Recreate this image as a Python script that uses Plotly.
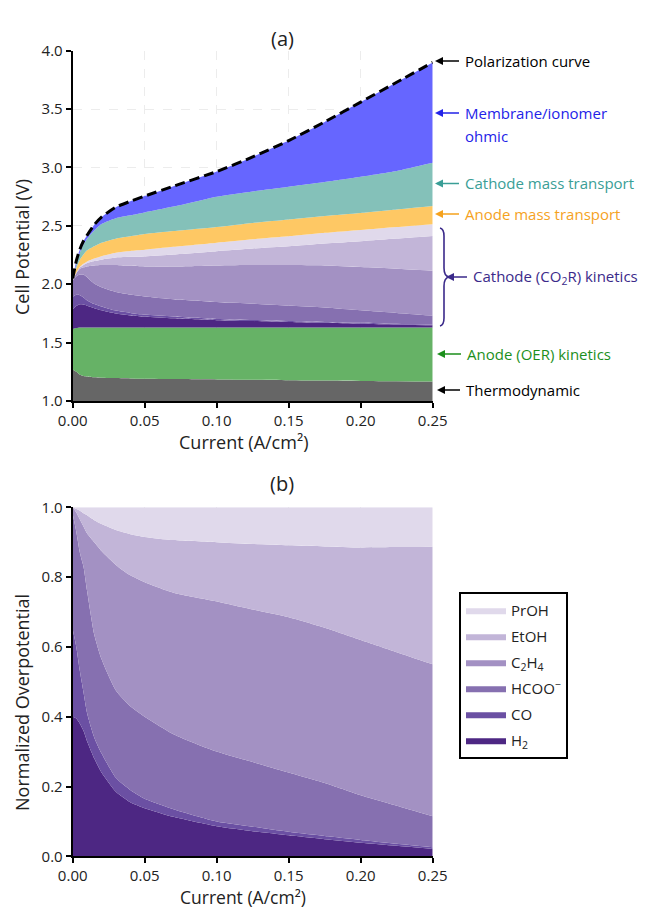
import numpy as np
import plotly.graph_objects as go

# ---------------- data ----------------
current = [0, 0.0025, 0.005, 0.0075, 0.01, 0.015, 0.02, 0.03, 0.04, 0.05,
           0.07, 0.10, 0.125, 0.15, 0.175, 0.20, 0.225, 0.25]

# (a) voltage contributions (V), stacked from bottom
thermodynamic = [1.27, 1.25, 1.225, 1.215, 1.21, 1.203, 1.20, 1.196, 1.193, 1.19,
                 1.188, 1.185, 1.182, 1.178, 1.175, 1.172, 1.169, 1.166]
anode_kinetics = [0.347, 0.375, 0.405, 0.415, 0.42, 0.427, 0.43, 0.434, 0.437, 0.44,
                  0.442, 0.445, 0.448, 0.452, 0.455, 0.458, 0.461, 0.464]
cathode_kinetics = [0.423, 0.475, 0.52, 0.545, 0.565, 0.59, 0.61, 0.64, 0.655, 0.665,
                    0.69, 0.726, 0.755, 0.78, 0.81, 0.835, 0.86, 0.884]
anode_mass_transport = [0.01, 0.04, 0.06, 0.08, 0.095, 0.105, 0.115, 0.12, 0.125, 0.135,
                        0.135, 0.134, 0.14, 0.145, 0.145, 0.145, 0.15, 0.156]
cathode_mass_transport = [0.0, 0.03, 0.06, 0.085, 0.10, 0.135, 0.16, 0.175, 0.18, 0.185,
                          0.21, 0.26, 0.27, 0.28, 0.29, 0.31, 0.33, 0.37]
membrane_ohmic = [0.0, 0.03, 0.03, 0.03, 0.03, 0.05, 0.06, 0.095, 0.12, 0.14,
                  0.175, 0.215, 0.295, 0.395, 0.515, 0.64, 0.76, 0.86]

# (b) normalized cathode overpotential, cumulative upper boundaries
h2_cum = [0.40, 0.395, 0.38, 0.36, 0.33, 0.28, 0.24, 0.185, 0.155, 0.138,
          0.113, 0.086, 0.072, 0.060, 0.049, 0.039, 0.030, 0.021]
co_cum = [0.65, 0.60, 0.53, 0.47, 0.41, 0.34, 0.295, 0.225, 0.19, 0.165,
          0.135, 0.10, 0.085, 0.07, 0.058, 0.047, 0.036, 0.026]
hcoo_cum = [0.98, 0.93, 0.87, 0.83, 0.76, 0.635, 0.565, 0.475, 0.43, 0.40,
            0.35, 0.30, 0.27, 0.24, 0.21, 0.175, 0.145, 0.115]
c2h4_cum = [1.0, 0.985, 0.965, 0.945, 0.925, 0.90, 0.875, 0.835, 0.805, 0.785,
            0.755, 0.73, 0.707, 0.685, 0.655, 0.62, 0.585, 0.55]
etoh_cum = [1.0, 0.995, 0.99, 0.983, 0.977, 0.963, 0.952, 0.935, 0.923, 0.915,
            0.906, 0.90, 0.895, 0.891, 0.888, 0.885, 0.886, 0.887]
proh_cum = [1.0] * 18

products = ["H<sub>2</sub>", "CO", "HCOO<sup>\u2212</sup>", "C<sub>2</sub>H<sub>4</sub>", "EtOH", "PrOH"]
product_colors = ["#4d2783", "#6b50a3", "#8670b0", "#a391c3", "#c2b5d8", "#e0d9eb"]

x_ticks = [0, 0.05, 0.10, 0.15, 0.20, 0.25]

# ---------------- derived ----------------
cums = np.array([h2_cum, co_cum, hcoo_cum, c2h4_cum, etoh_cum, proh_cum])
fractions = np.diff(np.vstack([np.zeros(len(current)), cums]), axis=0)
kin = np.array(cathode_kinetics)
polarization = (np.array(thermodynamic) + np.array(anode_kinetics) + kin +
                np.array(anode_mass_transport) + np.array(cathode_mass_transport) +
                np.array(membrane_ohmic))

FONT = "Open Sans"
TXT = "#222222"
W, H = 654, 910


def px(xp):
    return xp / W


def py(yp):
    return 1 - yp / H


fig = go.Figure()
SH = dict(shape="spline", smoothing=0.6, width=0)


def add_top(y, color, name):
    fig.add_trace(go.Scatter(x=current, y=y, stackgroup="a", mode="lines",
                             line=dict(color=color, **SH), fillcolor=color,
                             name=name, showlegend=False, hoverinfo="skip",
                             xaxis="x", yaxis="y"))


add_top(thermodynamic, "#666666", "Thermodynamic")
add_top(anode_kinetics, "#66b266", "Anode (OER) kinetics")
for i, (nm, col) in enumerate(zip(products, product_colors)):
    add_top(kin * fractions[i], col, nm)
add_top(anode_mass_transport, "#fec864", "Anode mass transport")
add_top(cathode_mass_transport, "#84c1b9", "Cathode mass transport")
add_top(membrane_ohmic, "#6666ff", "Membrane/ionomer ohmic")

fig.add_trace(go.Scatter(x=current, y=polarization, mode="lines",
                         line=dict(color="black", width=3, dash="10px,5px",
                                   shape="spline", smoothing=0.6),
                         showlegend=False, name="Polarization curve",
                         xaxis="x", yaxis="y"))

for i, (nm, col) in enumerate(zip(products, product_colors)):
    fig.add_trace(go.Scatter(x=current, y=fractions[i], stackgroup="b", mode="lines",
                             line=dict(color=col, **SH), fillcolor=col, name=nm,
                             legendgroup=f"g{i}", legendrank=10 - i, showlegend=True,
                             xaxis="x2", yaxis="y2"))

axis_common = dict(showline=True, linecolor="black", linewidth=2, ticks="outside",
                   ticklen=5, tickwidth=2, tickcolor="black", showgrid=True,
                   gridcolor="#ececec", griddash="dash", gridwidth=1, zeroline=False,
                   automargin=False, tickfont=dict(family=FONT, size=15, color=TXT))

xdom = [px(72.7), px(432.7)]
fig.update_layout(
    width=W, height=H, margin=dict(l=0, r=0, t=0, b=0),
    paper_bgcolor="white", plot_bgcolor="white",
    font=dict(family=FONT, color=TXT),
    xaxis=dict(domain=xdom, anchor="y", range=[0, 0.25], tickvals=x_ticks,
               tickformat=".2f", **axis_common),
    yaxis=dict(domain=[py(401), py(50.7)], anchor="x", range=[1, 4], dtick=0.5,
               tickformat=".1f", **axis_common),
    xaxis2=dict(domain=xdom, anchor="y2", range=[0, 0.25], tickvals=x_ticks,
                tickformat=".2f", **axis_common),
    yaxis2=dict(domain=[py(856.3), py(507.3)], anchor="x2", range=[0, 1], dtick=0.2,
                tickformat=".1f", **axis_common),
    legend=dict(x=px(459), y=py(592), xanchor="left", yanchor="top",
                bordercolor="black", borderwidth=2, bgcolor="white",
                traceorder="grouped", tracegroupgap=3.5, itemwidth=40,
                font=dict(family=FONT, size=15, color=TXT)),
)

# axis titles
axis_titles = [
    ("Current (A/cm\u00b2)", 243, 442, 0, "middle", 18),
    ("Cell Potential (V)", 22, 247, -90, "middle", 18),
    ("Current (A/cm\u00b2)", 243, 910, 0, "bottom", 17.5),
    ("Normalized Overpotential", 22, 703, -90, "middle", 18),
]
for t, xx, yy, ang, ya, fs in axis_titles:
    fig.add_annotation(x=px(xx), y=py(yy), xref="paper", yref="paper", text=t,
                       showarrow=False, textangle=ang, xanchor="center", yanchor=ya,
                       borderpad=0, font=dict(family=FONT, size=fs, color=TXT))

# panel labels
for t, yy in [("(a)", 23), ("(b)", 483)]:
    fig.add_annotation(x=px(282), y=py(yy), xref="paper", yref="paper", text=t,
                       showarrow=False, font=dict(family=FONT, size=20, color=TXT))

# right-side labels, each with an arrow pointing back at the chart
labels = [
    ("Polarization curve", "black", 61, 435, 463),
    ("Membrane/ionomer", "#2323e8", 113, 435, 463),
    ("Cathode mass transport", "#3a9e96", 183.5, 435, 463),
    ("Anode mass transport", "#f5a21e", 214, 435, 463),
    ("Cathode (CO<sub>2</sub>R) kinetics", "#3b2a8a", 277, 446, 471),
    ("Anode (OER) kinetics", "#1c8f1c", 354, 437, 465),
    ("Thermodynamic", "black", 390, 437, 464),
]
for text, col, ya, xtip, xt in labels:
    fig.add_annotation(x=px(xtip), y=py(ya), xref="paper", yref="paper", text=text,
                       showarrow=True, ax=xt - xtip, ay=0, xanchor="left",
                       yanchor="middle", startstandoff=4, arrowhead=2, arrowsize=1,
                       arrowwidth=1.6, arrowcolor=col,
                       font=dict(family=FONT, size=15, color=col))
fig.add_annotation(x=px(463), y=py(136), xref="paper", yref="paper", text="ohmic",
                   showarrow=False, xanchor="left", yanchor="middle",
                   font=dict(family=FONT, size=15, color="#2323e8"))

# curly brace for cathode kinetics
pts = [(440, 228), (444, 229), (444, 236), (444, 268), (444, 276), (449, 277),
       (444, 278), (444, 286), (444, 318), (444, 325), (440, 326)]
P = [(px(a), py(b)) for a, b in pts]
path = (f"M {P[0][0]},{P[0][1]} Q {P[1][0]},{P[1][1]} {P[2][0]},{P[2][1]} "
        f"L {P[3][0]},{P[3][1]} Q {P[4][0]},{P[4][1]} {P[5][0]},{P[5][1]} "
        f"Q {P[6][0]},{P[6][1]} {P[7][0]},{P[7][1]} L {P[8][0]},{P[8][1]} "
        f"Q {P[9][0]},{P[9][1]} {P[10][0]},{P[10][1]}")
fig.add_shape(type="path", path=path, xref="paper", yref="paper",
              line=dict(color="#3b2a8a", width=1.6))

fig.write_html("out.html")
